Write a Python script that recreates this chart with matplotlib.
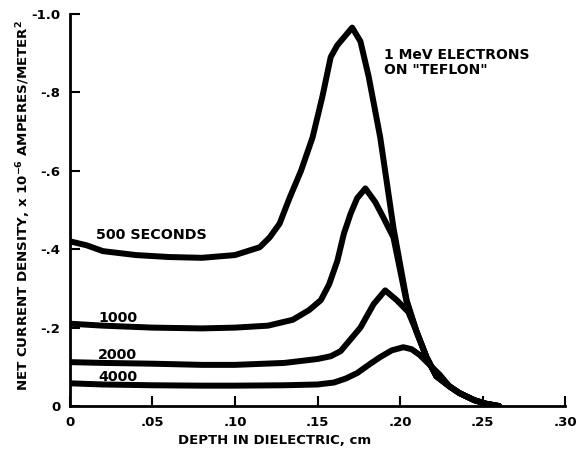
import numpy as np
import matplotlib.pyplot as plt

# Net current density (x 1e-6 A/m^2, negative) vs depth (cm)
x_500 = [0, 0.01, 0.02, 0.04, 0.06, 0.08, 0.10, 0.115, 0.121, 0.127, 0.133, 0.14,
         0.147, 0.153, 0.158, 0.162, 0.171, 0.176, 0.181, 0.188, 0.196, 0.204,
         0.21, 0.216, 0.222, 0.23, 0.236, 0.245, 0.252, 0.26]
y_500 = [-0.42, -0.41, -0.395, -0.385, -0.38, -0.378, -0.385, -0.405, -0.43, -0.465,
         -0.53, -0.60, -0.685, -0.79, -0.89, -0.92, -0.965, -0.93, -0.84, -0.685,
         -0.455, -0.27, -0.19, -0.125, -0.076, -0.05, -0.033, -0.015, -0.006, 0.0]

x_1000 = [0, 0.02, 0.05, 0.08, 0.10, 0.12, 0.135, 0.145, 0.152, 0.157, 0.162,
          0.166, 0.17, 0.174, 0.179, 0.185, 0.19, 0.196, 0.204, 0.21, 0.216, 0.222,
          0.23, 0.236, 0.245, 0.252, 0.26]
y_1000 = [-0.21, -0.205, -0.2, -0.198, -0.2, -0.205, -0.22, -0.245, -0.27, -0.31,
          -0.37, -0.44, -0.49, -0.53, -0.555, -0.52, -0.48, -0.43, -0.265, -0.19,
          -0.125, -0.076, -0.05, -0.033, -0.015, -0.006, 0.0]

x_2000 = [0, 0.02, 0.05, 0.08, 0.10, 0.13, 0.15, 0.158, 0.164, 0.17, 0.176,
          0.184, 0.191, 0.198, 0.205, 0.21, 0.216, 0.222, 0.23, 0.236, 0.245,
          0.252, 0.26]
y_2000 = [-0.112, -0.11, -0.108, -0.105, -0.105, -0.11, -0.12, -0.127, -0.14,
          -0.17, -0.2, -0.26, -0.295, -0.27, -0.24, -0.19, -0.125, -0.076, -0.05,
          -0.033, -0.015, -0.006, 0.0]

x_4000 = [0, 0.02, 0.05, 0.08, 0.10, 0.13, 0.15, 0.16, 0.167, 0.174, 0.181,
          0.188, 0.195, 0.202, 0.207, 0.212, 0.218, 0.224, 0.23, 0.236, 0.245,
          0.252, 0.26]
y_4000 = [-0.058, -0.055, -0.053, -0.052, -0.052, -0.053, -0.055, -0.06, -0.07,
          -0.084, -0.105, -0.125, -0.142, -0.15, -0.145, -0.13, -0.105, -0.08,
          -0.05, -0.033, -0.015, -0.006, 0.0]

xticks = [0, 0.05, 0.10, 0.15, 0.20, 0.25, 0.30]
xtick_labels = ['0', '.05', '.10', '.15', '.20', '.25', '.30']
yticks = [0, -0.2, -0.4, -0.6, -0.8, -1.0]
ytick_labels = ['0', '-.2', '-.4', '-.6', '-.8', '-1.0']

plt.rcParams['font.family'] = 'DejaVu Sans'
plt.rcParams['font.weight'] = 'bold'

fig = plt.figure(figsize=(5.76, 4.63), dpi=100)
ax = fig.add_axes([0.1215, 0.123, 0.8595, 0.847])

for xs, ys in [(x_500, y_500), (x_1000, y_1000), (x_2000, y_2000), (x_4000, y_4000)]:
    ax.plot(xs, ys, color='black', lw=4.3, solid_joinstyle='round',
            solid_capstyle='round')

ax.set_xlim(0, 0.30)
ax.set_ylim(0, -1.0)
ax.set_xticks(xticks)
ax.set_xticklabels(xtick_labels, fontsize=9.5, fontweight='bold')
ax.set_yticks(yticks)
ax.set_yticklabels(ytick_labels, fontsize=9.5, fontweight='bold')
ax.tick_params(direction='in', length=7, width=1.5, pad=7)
for s in ['top', 'right']:
    ax.spines[s].set_visible(False)
for s in ['left', 'bottom']:
    ax.spines[s].set_linewidth(2)

ax.set_xlabel('DEPTH IN DIELECTRIC, cm', fontsize=9.5, fontweight='bold')
ax.xaxis.set_label_coords(0.414, -0.072)
ax.set_ylabel('NET CURRENT DENSITY, x 10$^{-6}$ AMPERES/METER$^2$',
              fontsize=9.6, fontweight='bold')
ax.yaxis.set_label_coords(-0.074, 0.51)

# curve labels
ax.text(0.016, -0.425, '500 SECONDS', fontsize=10.3, fontweight='bold')
ax.text(0.017, -0.215, '1000', fontsize=10.3, fontweight='bold')
ax.text(0.017, -0.12, '2000', fontsize=10.3, fontweight='bold')
ax.text(0.017, -0.063, '4000', fontsize=10.3, fontweight='bold')
ax.text(0.190, -0.875, '1 MeV ELECTRONS\nON "TEFLON"', fontsize=10,
        fontweight='bold', va='center', linespacing=1.1)

fig.savefig('out.png', dpi=100)
